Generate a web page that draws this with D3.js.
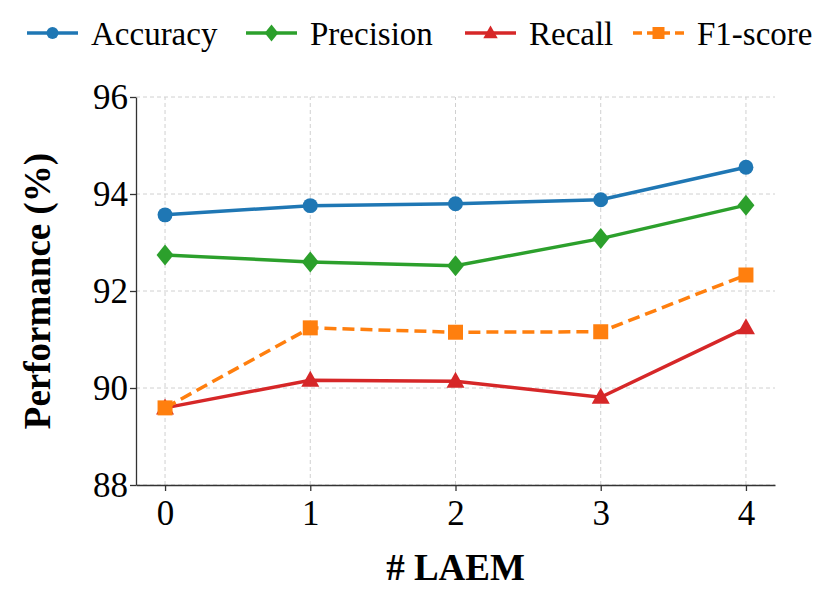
<!DOCTYPE html>
<html>
<head>
<meta charset="utf-8">
<script src="https://cdn.jsdelivr.net/npm/d3@7"></script>
<style>
  body { margin: 0; background: #fff; }
  text { font-family: "Liberation Serif", "Times New Roman", serif; }
</style>
</head>
<body>
<div id="chart"></div>
<script>
const width = 830
const height = 610

// data
const laem = [0, 1, 2, 3, 4]
const accuracy = [93.57, 93.76, 93.80, 93.88, 94.55]
const precision = [92.74, 92.60, 92.52, 93.08, 93.77]
const recall = [89.59, 90.16, 90.14, 89.81, 91.24]
const f1score = [89.59, 91.24, 91.15, 91.16, 92.33]
const yTicks = [88, 90, 92, 94, 96]

const series = [
  { name: "Accuracy", values: accuracy, color: "#1f77b4", marker: "circle", dash: null },
  { name: "Precision", values: precision, color: "#2ca02c", marker: "diamond", dash: null },
  { name: "Recall", values: recall, color: "#d62728", marker: "triangle", dash: null },
  { name: "F1-score", values: f1score, color: "#ff7f0e", marker: "square", dash: "12,6" }
]

const svg = d3.select("#chart").append("svg")
  .attr("width", width)
  .attr("height", height)

const x = d3.scaleLinear().domain([-0.2, 4.2]).range([136, 775])
const y = d3.scaleLinear().domain([88, 96]).range([485, 97])

// grid
const grid = svg.append("g")
grid.selectAll(".vg").data(laem).enter().append("line")
  .attr("x1", d => x(d)).attr("x2", d => x(d))
  .attr("y1", y(88)).attr("y2", y(96))
  .attr("stroke", "#d0d0d0").attr("stroke-width", 1).attr("stroke-dasharray", "4,3")
grid.selectAll(".hg").data(yTicks).enter().append("line")
  .attr("x1", x(-0.2)).attr("x2", x(4.2))
  .attr("y1", d => y(d)).attr("y2", d => y(d))
  .attr("stroke", "#d0d0d0").attr("stroke-width", 1).attr("stroke-dasharray", "4,3")

// axes
const xAxis = svg.append("g")
  .attr("transform", "translate(0," + y(88) + ")")
  .call(d3.axisBottom(x).tickValues(laem).tickFormat(d3.format("d")).tickSize(6).tickSizeOuter(0))
const yAxis = svg.append("g")
  .attr("transform", "translate(" + x(-0.2) + ",0)")
  .call(d3.axisLeft(y).tickValues(yTicks).tickSize(6).tickSizeOuter(0))

;[xAxis, yAxis].forEach(function (a) {
  a.select(".domain").attr("stroke", "#333").attr("stroke-width", 1.3)
  a.selectAll(".tick line").attr("stroke", "#333").attr("stroke-width", 1.3)
  a.selectAll(".tick text")
    .style("font-family", "Liberation Serif")
    .style("font-size", "35px")
    .attr("fill", "#000")
})
xAxis.selectAll(".tick text").attr("dy", "0.88em")
yAxis.selectAll(".tick text").attr("x", -8)

// axis titles
svg.append("text")
  .attr("x", x(2)).attr("y", 580)
  .attr("text-anchor", "middle")
  .style("font-size", "37px").style("font-weight", "bold")
  .text("# LAEM")
svg.append("text")
  .attr("transform", "translate(50," + y(92) + ") rotate(-90)")
  .attr("text-anchor", "middle")
  .style("font-size", "37px").style("font-weight", "bold")
  .text("Performance (%)")

function markerPath(type) {
  if (type === "circle") return d3.symbol(d3.symbolCircle, 175)()
  if (type === "diamond") return "M0,-10.5L8.5,0L0,10.5L-8.5,0Z"
  if (type === "triangle") return "M0,-9.5L9,6.5L-9,6.5Z"
  return "M-7.5,-7.5H7.5V7.5H-7.5Z"
}

const line = d3.line()
  .x((d, i) => x(laem[i]))
  .y(d => y(d))

series.forEach(function (s) {
  svg.append("path")
    .datum(s.values)
    .attr("d", line)
    .attr("fill", "none")
    .attr("stroke", s.color)
    .attr("stroke-width", 3.5)
    .attr("stroke-dasharray", s.dash)
  svg.append("g").selectAll("path")
    .data(s.values)
    .enter()
    .append("path")
    .attr("transform", (d, i) => "translate(" + x(laem[i]) + "," + y(d) + ")")
    .attr("d", markerPath(s.marker))
    .attr("fill", s.color)
})

// legend
const legendX = [27, 246, 465, 633]
const legend = svg.append("g")
series.forEach(function (s, i) {
  const g = legend.append("g").attr("transform", "translate(" + legendX[i] + ",33)")
  g.append("line")
    .attr("x1", 0).attr("x2", 51)
    .attr("stroke", s.color).attr("stroke-width", 3.5)
    .attr("stroke-dasharray", s.dash ? "9,5" : null)
  g.append("path")
    .attr("transform", "translate(25.5,0) scale(0.8)")
    .attr("d", markerPath(s.marker))
    .attr("fill", s.color)
  g.append("text")
    .attr("x", 64).attr("y", 0).attr("dy", "0.35em")
    .style("font-size", "33px")
    .text(s.name)
})
</script>
</body>
</html>
